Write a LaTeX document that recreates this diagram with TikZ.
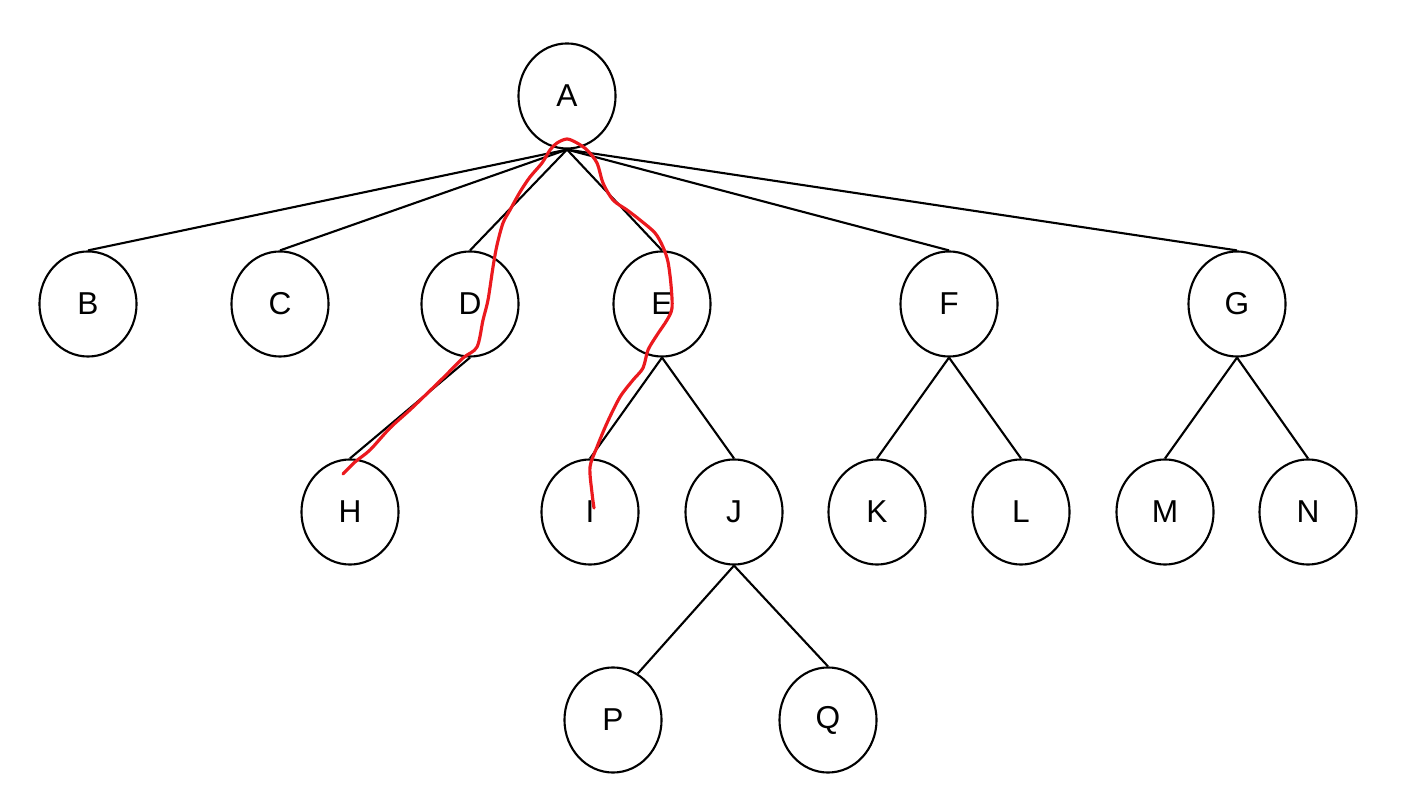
\documentclass[tikz,border=0pt]{standalone}
\usepackage{fontspec}
\setmainfont{Liberation Sans}
\usepackage{tikz}
\usetikzlibrary{shapes.geometric}

\begin{document}
\begin{tikzpicture}[
  x=0.01cm, y=-0.01cm,
  vertex/.style={
    draw=black,
    ellipse,
    line width=0.6pt,
    minimum width=0.97cm,
    minimum height=1.05cm,
    inner sep=0pt,
    font=\fontsize{9}{10}\selectfont
  },
  branch/.style={
    draw=black,
    line width=0.6pt
  },
  scribble/.style={
    draw=penred,
    line width=0.9pt,
    line cap=round,
    line join=round
  }
]

\definecolor{penred}{RGB}{235,25,30}

\useasboundingbox (0,0) rectangle (1407,792);

% root
\node[vertex] (A) at (567,96) {A};

% first level
\node[vertex] (B) at (88,304) {B};
\node[vertex] (C) at (280,304) {C};
\node[vertex] (D) at (470,304) {D};
\node[vertex] (E) at (662,304) {E};
\node[vertex] (F) at (949,304) {F};
\node[vertex] (G) at (1237,304) {G};

% second level
\node[vertex] (H) at (350,512) {H};
\node[vertex] (I) at (590,512) {I};
\node[vertex] (J) at (734,512) {J};
\node[vertex] (K) at (877,512) {K};
\node[vertex] (L) at (1021,512) {L};
\node[vertex] (M) at (1165,512) {M};
\node[vertex] (N) at (1308,512) {N};

% third level
\node[vertex] (P) at (613,720) {P};
\node[vertex] (Q) at (828,720) {Q};

\foreach \kid in {B,C,D,E,F,G}
  \draw[branch] (A.south) -- (\kid.north);
\draw[branch] (D.south) -- (H.north);
\draw[branch] (E.south) -- (I.north);
\draw[branch] (E.south) -- (J.north);
\draw[branch] (F.south) -- (K.north);
\draw[branch] (F.south) -- (L.north);
\draw[branch] (G.south) -- (M.north);
\draw[branch] (G.south) -- (N.north);
\draw[branch] (J.south) -- (P.62);
\draw[branch] (J.south) -- (Q.north);

% hand-drawn path H - A - I
\draw[scribble] plot[smooth, tension=0.5] coordinates {
  (343,474) (355,462) (370,450) (390,428) (412,408) (443,378)
  (463,358) (477,347) (483,320) (488,300) (493,267) (497,245)
  (503,223) (510,210) (520,192) (530,177) (542,163) (550,150)
  (557,143) (567,139) (577,143) (587,150) (597,163) (603,183)
  (613,200) (627,210) (640,220) (655,233) (663,247) (668,262)
  (671,285) (672,308) (667,320) (657,335) (648,350) (643,368)
  (633,380) (620,397) (607,423) (597,447) (590,467) (592,493)
  (594,508)
};

\end{tikzpicture}
\end{document}
